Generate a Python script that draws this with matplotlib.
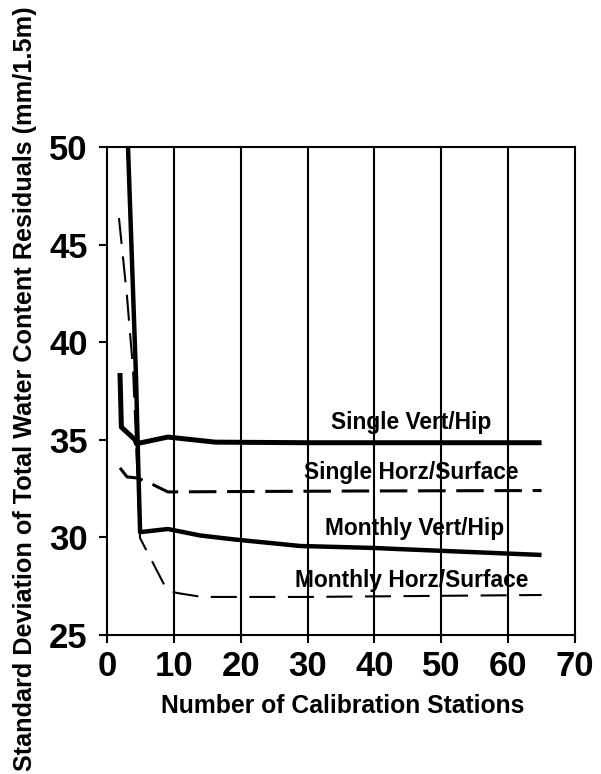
import matplotlib
matplotlib.use("Agg")
import matplotlib.pyplot as plt

plt.rcParams['font.family'] = ['Liberation Sans', 'DejaVu Sans']
plt.rcParams['font.weight'] = 'bold'

# Standard deviation of residuals vs. number of calibration stations
single_vert_x = [1.94, 2.15, 4.2, 4.4, 9.1, 16.2, 30.0, 45.0, 65.0]
single_vert_y = [38.42, 35.65, 35.0, 34.8, 35.14, 34.88, 34.85, 34.85, 34.85]

single_horz_x = [1.94, 3.0, 4.6, 6.9, 9.1, 20.0, 40.0, 65.0]
single_horz_y = [33.56, 33.1, 33.04, 32.7, 32.33, 32.35, 32.38, 32.4]

monthly_vert_x = [3.0, 4.35, 4.65, 4.95, 9.1, 13.9, 18.9, 28.9, 39.8, 43.8, 65.0]
monthly_vert_y = [51.4, 38.1, 34.0, 30.27, 30.43, 30.1, 29.9, 29.56, 29.46, 29.4, 29.1]

monthly_horz_x = [1.79, 3.0, 3.9, 4.94, 8.97, 10.5, 14.2, 30.0, 65.0]
monthly_horz_y = [46.36, 42.3, 38.6, 29.97, 27.3, 27.15, 26.95, 26.95, 27.05]

labels = ["Single Vert/Hip", "Single Horz/Surface", "Monthly Vert/Hip", "Monthly Horz/Surface"]
label_x = [45.5, 45.5, 46.0, 45.6]
label_y = [35.55, 32.99, 30.12, 27.46]

x_ticks = [0, 10, 20, 30, 40, 50, 60, 70]
y_ticks = [25, 30, 35, 40, 45, 50]

fig = plt.figure(figsize=(6.01, 7.74), dpi=100)
ax = fig.add_axes([107 / 601, 1 - 635 / 774, 468 / 601, 488 / 774])

ax.set_xlim(0, 70)
ax.set_ylim(25, 50)

for xv in x_ticks[1:-1]:
    ax.axvline(xv, color='black', lw=1.5, zorder=1)

ax.plot(single_vert_x, single_vert_y, color='black', lw=3.6,
        solid_joinstyle='round', solid_capstyle='butt', zorder=3)
ax.plot(monthly_vert_x, monthly_vert_y, color='black', lw=3.2,
        solid_joinstyle='round', solid_capstyle='butt', zorder=3)
ax.plot(single_horz_x, single_horz_y, color='black', lw=2.2,
        dashes=(9, 3.5), zorder=3)
ax.plot(monthly_horz_x, monthly_horz_y, color='black', lw=1.5,
        dashes=(12.5, 6), zorder=3)

for t, lx, ly in zip(labels, label_x, label_y):
    ax.text(lx, ly, t, ha='center', va='baseline', fontsize=16.4,
            fontweight='bold', zorder=4)

ax.set_xticks(x_ticks)
ax.set_yticks(y_ticks)
ax.tick_params(axis='both', direction='out', length=6, width=1.5,
               labelsize=25, color='black')
ax.tick_params(axis='x', pad=5)
ax.tick_params(axis='y', pad=8)
for lab in ax.get_xticklabels() + ax.get_yticklabels():
    lab.set_fontweight('bold')

for sp in ax.spines.values():
    sp.set_linewidth(1.5)
    sp.set_color('black')

fig.text(343 / 601, 1 - 713 / 774, "Number of Calibration Stations",
         ha='center', va='baseline', fontsize=17.8, fontweight='bold')
fig.text(25 / 601, 1 - 389 / 774,
         "Standard Deviation of Total Water Content Residuals (mm/1.5m)",
         ha='center', va='center', rotation=90, fontsize=18.2, fontweight='bold')

fig.savefig("out.png", dpi=100)
